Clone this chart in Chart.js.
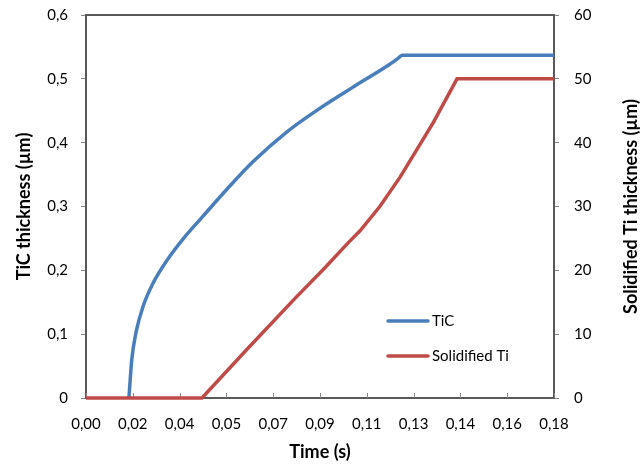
<!DOCTYPE html>
<html><head><meta charset="utf-8">
<script src="https://cdn.jsdelivr.net/npm/chart.js@4/dist/chart.umd.min.js"></script>
<style>html,body{margin:0;padding:0;background:#fff}#wrap{width:641px;height:468px}</style>
</head><body><div id="wrap"><canvas id="c" width="641" height="468"></canvas></div>
<script>
// Time (s) and TiC thickness (µm) — left axis
const ticTime = [0.0165, 0.0176, 0.0192, 0.0219, 0.0258, 0.0312, 0.0373, 0.0446, 0.0542, 0.0642, 0.0773, 0.0900, 0.1027, 0.1158, 0.1200, 0.1217, 0.18];
const ticThickness = [0, 0.060, 0.102, 0.143, 0.180, 0.216, 0.249, 0.283, 0.327, 0.370, 0.417, 0.454, 0.487, 0.520, 0.532, 0.537, 0.537];
// Time (s) and Solidified Ti thickness (µm) — right axis
const tiTime = [0, 0.0446, 0.0623, 0.0804, 0.0919, 0.1008, 0.1054, 0.1130, 0.1208, 0.1335, 0.1427, 0.18];
const tiThickness = [0, 0, 7.8, 15.6, 20.4, 24.3, 26.2, 30.0, 34.6, 43.1, 50, 50];
// tick values / labels
const xTickValues = [0, 0.018, 0.036, 0.054, 0.072, 0.09, 0.108, 0.126, 0.144, 0.162, 0.18];
const xTickLabels = ['0,00','0,02','0,04','0,05','0,07','0,09','0,11','0,13','0,14','0,16','0,18'];
const leftTickValues = [0, 0.1, 0.2, 0.3, 0.4, 0.5, 0.6];
const leftTickLabels = ['0','0,1','0,2','0,3','0,4','0,5','0,6'];
const rightTickValues = [0, 10, 20, 30, 40, 50, 60];
const rightTickLabels = ['0','10','20','30','40','50','60'];
const seriesNames = ['TiC', 'Solidified Ti'];
const seriesColors = ['#4a7ebb', '#be4b48'];

const FONT = 'Lato, "Open Sans", sans-serif';
const AXIS_COLOR = '#595959';
const TICK_COLOR = '#868686';

const toPts = (xs, ys) => xs.map((x, i) => ({x: x, y: ys[i]}));

const framePlugin = {
  id: 'frame',
  beforeDatasetsDraw(chart) {
    const {ctx, chartArea: a, scales} = chart;
    ctx.save();
    ctx.strokeStyle = AXIS_COLOR;
    ctx.lineWidth = 2;
    ctx.strokeRect(a.left, a.top, a.right - a.left, a.bottom - a.top);
    ctx.strokeStyle = TICK_COLOR;
    ctx.lineWidth = 1;
    ctx.beginPath();
    xTickValues.forEach(v => {
      const px = Math.round(scales.x.getPixelForValue(v)) + 0.5;
      ctx.moveTo(px, a.bottom);
      ctx.lineTo(px, a.bottom - 5);
    });
    ctx.stroke();
    ctx.restore();
  },
  afterDraw(chart) {
    const {ctx, chartArea: a} = chart;
    ctx.save();
    // legend inside plot
    const lx = a.left + 302, ly0 = a.top + 306, gap = 35;
    chart.data.datasets.forEach((ds, i) => {
      const y = ly0 + i * gap;
      ctx.strokeStyle = ds.borderColor;
      ctx.lineWidth = 3.5;
      ctx.lineCap = 'round';
      ctx.beginPath();
      ctx.moveTo(lx, y);
      ctx.lineTo(lx + 40, y);
      ctx.stroke();
      ctx.fillStyle = '#000';
      ctx.font = '15px ' + FONT;
      ctx.textBaseline = 'middle';
      ctx.textAlign = 'left';
      ctx.fillText(ds.label, lx + 44, y);
    });
    // right axis title, reading bottom to top
    ctx.translate(631, (a.top + a.bottom) / 2);
    ctx.rotate(-Math.PI / 2);
    ctx.font = 'bold 18px ' + FONT;
    ctx.textAlign = 'center';
    ctx.textBaseline = 'middle';
    ctx.fillStyle = '#000';
    ctx.fillText('Solidified Ti thickness (µm)', 0, 0);
    ctx.restore();
  }
};

new Chart(document.getElementById('c'), {
  type: 'line',
  data: {
    datasets: [
      {label: seriesNames[0], data: toPts(ticTime, ticThickness), yAxisID: 'y',
       borderColor: seriesColors[0], backgroundColor: seriesColors[0], borderWidth: 3.5,
       pointRadius: 0, cubicInterpolationMode: 'monotone', order: 1, clip: false},
      {label: seriesNames[1], data: toPts(tiTime, tiThickness), yAxisID: 'y2',
       borderColor: seriesColors[1], backgroundColor: seriesColors[1], borderWidth: 3.5,
       pointRadius: 0, tension: 0, order: 0, clip: false}
    ]
  },
  options: {
    responsive: false,
    animation: false,
    devicePixelRatio: 1,
    layout: {padding: {top: 15, left: 0, right: 0, bottom: 0}},
    plugins: {legend: {display: false}, tooltip: {enabled: false}},
    scales: {
      x: {
        type: 'linear', min: 0, max: 0.18,
        afterBuildTicks(s) { s.ticks = xTickValues.map(v => ({value: v})); },
        afterFit(s) { s.height = 70; },
        border: {display: false},
        grid: {display: true, drawOnChartArea: false, drawTicks: false, color: 'rgba(0,0,0,0)'},
        ticks: {padding: 17, color: '#000', font: {family: FONT, size: 15}, maxRotation: 0, autoSkip: false,
                callback: (v, i) => xTickLabels[i]},
        title: {display: true, text: 'Time (s)', color: '#000', font: {family: FONT, size: 18, weight: 'bold'},
                padding: {top: 0, bottom: 5}}
      },
      y: {
        type: 'linear', position: 'left', min: 0, max: 0.6,
        afterBuildTicks(s) { s.ticks = leftTickValues.map(v => ({value: v})); },
        afterFit(s) { s.width = 86; s.paddingTop = 0; s.paddingBottom = 0; },
        border: {display: false},
        grid: {drawOnChartArea: false, drawTicks: true, tickLength: 5, color: TICK_COLOR, lineWidth: 1},
        ticks: {padding: 13, color: '#000', font: {family: FONT, size: 15}, autoSkip: false,
                callback: (v, i) => leftTickLabels[i]},
        title: {display: true, text: 'TiC thickness (µm)', color: '#000', font: {family: FONT, size: 18, weight: 'bold'},
                padding: {top: 13, bottom: 0}}
      },
      y2: {
        type: 'linear', position: 'right', min: 0, max: 60,
        afterBuildTicks(s) { s.ticks = rightTickValues.map(v => ({value: v})); },
        afterFit(s) { s.width = 87; s.paddingTop = 0; s.paddingBottom = 0; },
        border: {display: false},
        grid: {drawOnChartArea: false, drawTicks: true, tickLength: 5, color: TICK_COLOR, lineWidth: 1},
        ticks: {padding: 15, color: '#000', font: {family: FONT, size: 15}, autoSkip: false,
                callback: (v, i) => rightTickLabels[i]}
      }
    }
  },
  plugins: [framePlugin]
});
</script></body></html>
